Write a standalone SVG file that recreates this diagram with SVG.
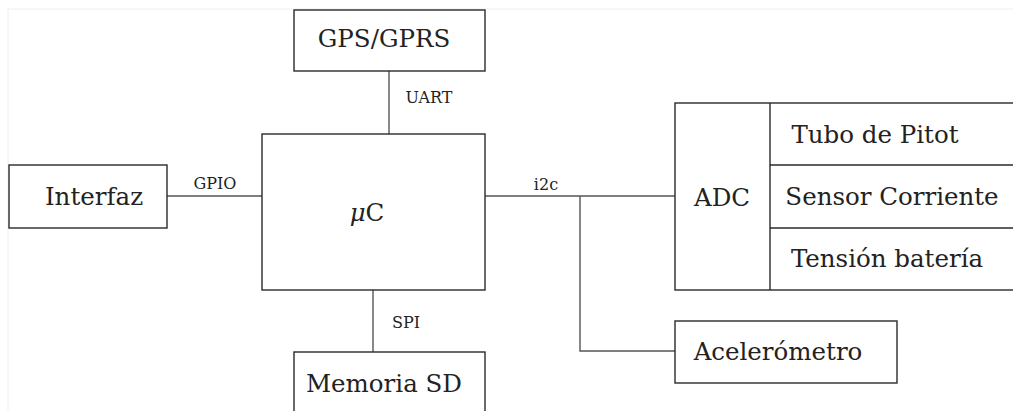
<svg xmlns="http://www.w3.org/2000/svg" width="1013" height="411" viewBox="0 0 1013 411">
<style>
.box{fill:#fff;stroke:#2a2a2a;stroke-width:1.4}
.ln{fill:none;stroke:#555;stroke-width:1.4}
.t{font-family:"DejaVu Serif","Liberation Serif",serif;font-size:24.5px;fill:#222;text-anchor:middle}
.s{font-family:"DejaVu Serif","Liberation Serif",serif;font-size:16px;fill:#222;text-anchor:middle}
</style>
<rect width="1013" height="411" fill="#fff"/>
<path d="M8 9H1013M8 9V411" stroke="#eeeeee" stroke-width="1" fill="none"/>
<g id="connectors">
<path class="ln" d="M389 71V134"/>
<path class="ln" d="M167 196H262"/>
<path class="ln" d="M485 196H675"/>
<path class="ln" d="M580 196V351H675"/>
<path class="ln" d="M373 290V352"/>
<text class="s" x="429" y="103">UART</text>
<text class="s" x="215" y="189">GPIO</text>
<text class="s" x="546" y="190">i2c</text>
<text class="s" x="406" y="328">SPI</text>
</g>
<g id="gps">
<rect class="box" x="294" y="10" width="191" height="61"/>
<text class="t" x="384" y="47">GPS/GPRS</text>
</g>
<g id="uc">
<rect class="box" x="262" y="134" width="223" height="156"/>
<text class="t" x="367" y="221"><tspan font-style="italic">μ</tspan>C</text>
</g>
<g id="interfaz">
<rect class="box" x="9" y="165" width="158" height="63"/>
<text class="t" x="94" y="205">Interfaz</text>
</g>
<g id="adc">
<rect class="box" x="675" y="103" width="345" height="187"/>
<path class="box" d="M770 103V290M770 165H1020M770 228H1020"/>
<text class="t" x="722" y="206">ADC</text>
<text class="t" x="875" y="143">Tubo de Pitot</text>
<text class="t" x="892" y="205">Sensor Corriente</text>
<text class="t" x="887" y="267">Tensión batería</text>
</g>
<g id="acelerometro">
<rect class="box" x="675" y="321" width="222" height="62"/>
<text class="t" x="778" y="360">Acelerómetro</text>
</g>
<g id="memoria">
<rect class="box" x="294" y="352" width="191" height="70"/>
<text class="t" x="384" y="392">Memoria SD</text>
</g>
</svg>
